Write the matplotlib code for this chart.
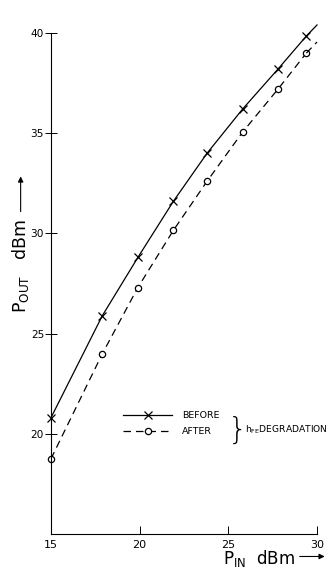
import matplotlib
matplotlib.use("Agg")
import matplotlib.pyplot as plt

# values (P_in, P_out in dBm)
p_in = [15, 17.9, 19.9, 21.9, 23.8, 25.8, 27.8, 29.4]
before = [20.8, 25.9, 28.8, 31.6, 34.0, 36.2, 38.2, 39.85]
after = [18.75, 24.0, 27.3, 30.15, 32.6, 35.05, 37.2, 39.0]
# where the drawn curves run out past the last point
end_in = [29.4, 30.0]
end_before = [39.85, 40.4]
end_after = [39.0, 39.55]

x_ticks = [15, 20, 25, 30]
y_ticks = [20, 25, 30, 35, 40]

plt.rcParams['font.family'] = 'DejaVu Sans'

fig = plt.figure(figsize=(3.33, 5.69), dpi=100)
ax = fig.add_axes([0.153, 0.0615, 0.799, 0.8805])

ax.plot(p_in, before, color='black', lw=0.9, marker='x', ms=6, mew=0.9,
        clip_on=False, label='BEFORE')
ax.plot(end_in, end_before, color='black', lw=0.9, clip_on=False)
ax.plot(p_in, after, color='black', lw=0.9, ls=(0, (6, 4)), marker='o', ms=4.5,
        mfc='white', mew=0.9, clip_on=False, label='AFTER')
ax.plot(end_in, end_after, color='black', lw=0.9, ls=(0, (6, 4)), clip_on=False)

ax.set_xlim(15, 30)
ax.set_ylim(15, 40)
ax.spines['top'].set_visible(False)
ax.spines['right'].set_visible(False)
for s in ['left', 'bottom']:
    ax.spines[s].set_linewidth(0.8)

ax.set_xticks(x_ticks)
ax.set_yticks(y_ticks)
ax.tick_params(axis='x', direction='in', length=6, width=0.7, labelsize=8, pad=4)
ax.tick_params(axis='y', direction='inout', length=9, width=0.7, labelsize=7.6, pad=0.5)

leg = ax.legend(loc='upper left', bbox_to_anchor=(0.24, 0.262), frameon=False,
                fontsize=6.8, handlelength=5.2, handletextpad=1.0, labelspacing=0.75,
                numpoints=1)

# brace and group label
fig.text(0.685, 0.243, '}', fontsize=22, va='center', ha='left', fontweight='ultralight')
fig.text(0.737, 0.244, r'$\mathregular{h_{FE}}$DEGRADATION', fontsize=6.6, va='center',
         ha='left')

# axis labels with arrows
fig.text(0.062, 0.533, r'$\mathregular{P_{OUT}}$   dBm', rotation=90, fontsize=12.5,
         ha='center', va='center')
ax.annotate('', xy=(0.062, 0.69), xytext=(0.062, 0.628), xycoords='figure fraction',
            arrowprops=dict(arrowstyle='-|>', color='black', lw=0.8,
                            mutation_scale=8, shrinkA=0, shrinkB=0))

fig.text(0.67, 0.018, r'$\mathregular{P_{IN}}$  dBm', fontsize=12, ha='left',
         va='center')
ax.annotate('', xy=(0.975, 0.022), xytext=(0.9, 0.022), xycoords='figure fraction',
            arrowprops=dict(arrowstyle='-|>', color='black', lw=0.8,
                            mutation_scale=8, shrinkA=0, shrinkB=0))

fig.savefig('out.png', dpi=100)
